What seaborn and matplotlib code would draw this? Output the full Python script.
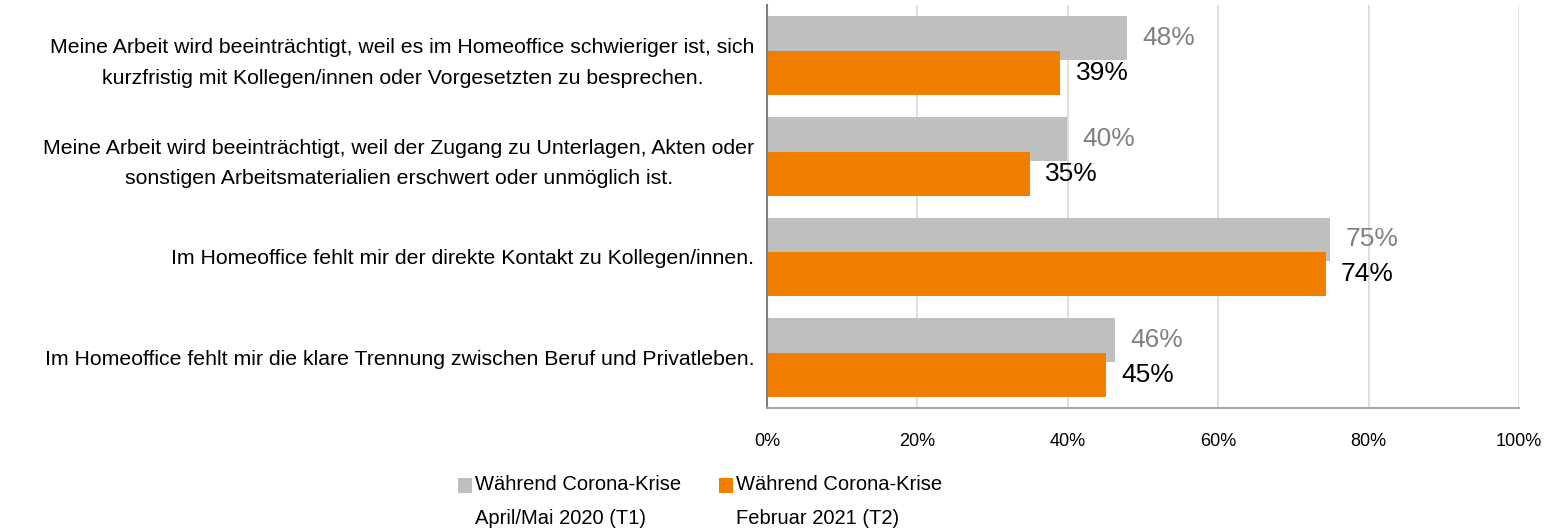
import numpy as np
import pandas as pd
import matplotlib.pyplot as plt
import seaborn as sns
from matplotlib import font_manager
from matplotlib.patches import Rectangle

# Data (percent)
categories = [
    "Meine Arbeit wird beeinträchtigt, weil es im Homeoffice schwieriger ist, sich\n"
    "kurzfristig mit Kollegen/innen oder Vorgesetzten zu besprechen.",
    "Meine Arbeit wird beeinträchtigt, weil der Zugang zu Unterlagen, Akten oder\n"
    "sonstigen Arbeitsmaterialien erschwert oder unmöglich ist.",
    "Im Homeoffice fehlt mir der direkte Kontakt zu Kollegen/innen.",
    "Im Homeoffice fehlt mir die klare Trennung zwischen Beruf und Privatleben.",
]
t1_values = [47.9, 39.9, 74.9, 46.3]
t2_values = [39.0, 35.0, 74.3, 45.1]
series = ["Während Corona-Krise\nApril/Mai 2020 (T1)",
          "Während Corona-Krise\nFebruar 2021 (T2)"]
xticks = [0, 20, 40, 60, 80, 100]

colors = ["#BFBFBF", "#F07F00"]
label_colors = ["#808080", "#000000"]

df = pd.DataFrame({
    "Aussage": categories * 2,
    "Wert": t1_values + t2_values,
    "Zeitpunkt": [series[0]] * len(categories) + [series[1]] * len(categories),
})

sns.set_theme(style="white")
installed = {f.name for f in font_manager.fontManager.ttflist}
main_font = "Liberation Sans Narrow" if "Liberation Sans Narrow" in installed else "Liberation Sans"
plt.rcParams["font.family"] = [main_font, "DejaVu Sans"]

fig, ax = plt.subplots(figsize=(15.51, 5.29), dpi=100)
fig.subplots_adjust(left=0.4945, right=0.9794, top=0.9905, bottom=0.2287)

sns.barplot(data=df, y="Aussage", x="Wert", hue="Zeitpunkt", hue_order=series,
            palette=colors, orient="h", width=0.692, saturation=1,
            linewidth=0, legend=False, ax=ax)

# bars of one pair overlap a little, like in the original
bar_h = 0.436
for cont in ax.containers:
    for bar in cont:
        cy = bar.get_y() + bar.get_height() / 2
        bar.set_height(bar_h)
        bar.set_y(cy - bar_h / 2)

for cont, col in zip(ax.containers, label_colors):
    ax.bar_label(cont, fmt="%.0f%%", padding=11, color=col, fontsize=19)

ax.set_xlim(0, 100)
ax.set_xticks(xticks)
ax.set_xticklabels([f"{t}%" for t in xticks])
ax.set_xlabel("")
ax.set_ylabel("")
ax.tick_params(axis="x", length=0, pad=18, labelsize=13, colors="black")
ax.tick_params(axis="y", length=0, pad=9, labelsize=15.3, colors="black")
for lab in ax.get_yticklabels():
    lab.set_multialignment("center")
    lab.set_linespacing(1.75)

ax.grid(axis="x", color="#D9D9D9", linewidth=1.2)
ax.grid(axis="y", visible=False)
ax.set_axisbelow(True)
sns.despine(ax=ax, top=True, right=True)
ax.spines["left"].set_color("#7F7F7F")
ax.spines["left"].set_linewidth(1.5)
ax.spines["bottom"].set_color("#A6A6A6")
ax.spines["bottom"].set_linewidth(1.5)

# legend below the chart
W, H = 1551, 529
for name, col, sx, tx in zip(series, colors, [458, 719], [475, 736]):
    fig.add_artist(Rectangle((sx / W, 1 - 493 / H), 14 / W, 15 / H,
                             transform=fig.transFigure, color=col, linewidth=0))
    fig.text(tx / W, 1 - 475 / H, name, va="top", ha="left", fontsize=14.5,
             linespacing=2.0, color="black")

plt.savefig("out.png", dpi=100)
